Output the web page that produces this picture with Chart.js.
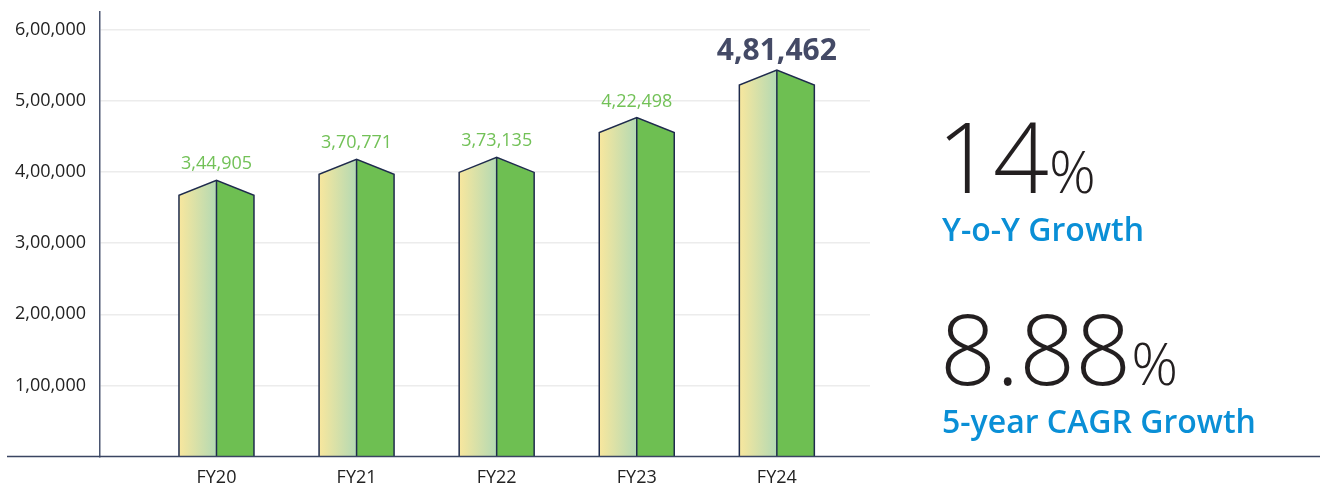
<!DOCTYPE html>
<html>
<head>
<meta charset="utf-8">
<script src="https://cdn.jsdelivr.net/npm/chart.js@4.4.1/dist/chart.umd.min.js"></script>
<style>
    body { margin: 0; background: #fff; font-family: "Open Sans", sans-serif; }
    #wrap { position: relative; width: 1322px; height: 488px; }
    .stat { position: absolute; left: 940px; white-space: nowrap; }
    .num { font-size: 98px; font-weight: 300; color: #231f20; line-height: 98px; }
    .pct { font-size: 58px; font-weight: 300; color: #231f20; }
    .cap { position: absolute; left: 942px; font-size: 32px; font-weight: 600; color: #0a8fd6; line-height: 32px; white-space: nowrap; }
</style>
</head>
<body>
<div id="wrap">
    <canvas id="myChart" width="1322" height="488"></canvas>
    <div class="stat" id="s1" style="top:106px;left:937px"><span class="num">14</span><span class="pct">%</span></div>
    <div class="cap" style="top:213px">Y-o-Y Growth</div>
    <div class="stat" id="s2" style="top:298px"><span class="num">8.88</span><span class="pct">%</span></div>
    <div class="cap" style="top:405px">5-year CAGR Growth</div>
</div>
<script>
var years = ['FY20', 'FY21', 'FY22', 'FY23', 'FY24'];
var revenue = [344905, 370771, 373135, 422498, 481462];
var yTicks = [100000, 200000, 300000, 400000, 500000, 600000];

// indian style grouping 4,81,462
function inr(n){
    var s = String(n);
    var last3 = s.slice(-3);
    var rest = s.slice(0, -3);
    if(rest) rest = rest.replace(/\B(?=(\d{2})+(?!\d))/g, ',') + ',';
    return rest + last3;
}

var prism = {
    id: 'prism',
    afterDatasetsDraw: function(chart){
        var ctx = chart.ctx;
        var meta = chart.getDatasetMeta(0);
        meta.data.forEach(function(bar, i){
            var x = bar.x, top = bar.y, half = bar.width / 2;
            var base = Math.min(bar.base, chart.chartArea.bottom);
            var peak = top - 15;

            var grad = ctx.createLinearGradient(x - half, 0, x, 0);
            grad.addColorStop(0, '#f8e79e');
            grad.addColorStop(1, '#b3d9b3');

            ctx.save();
            ctx.beginPath();
            ctx.moveTo(x - half, base);
            ctx.lineTo(x - half, top);
            ctx.lineTo(x, peak);
            ctx.lineTo(x, base);
            ctx.closePath();
            ctx.fillStyle = grad;
            ctx.fill();

            ctx.beginPath();
            ctx.moveTo(x, base);
            ctx.lineTo(x, peak);
            ctx.lineTo(x + half, top);
            ctx.lineTo(x + half, base);
            ctx.closePath();
            ctx.fillStyle = '#6ebf52';
            ctx.fill();

            ctx.beginPath();
            ctx.moveTo(x - half, base);
            ctx.lineTo(x - half, top);
            ctx.lineTo(x, peak);
            ctx.lineTo(x + half, top);
            ctx.lineTo(x + half, base);
            ctx.moveTo(x, peak);
            ctx.lineTo(x, base);
            ctx.strokeStyle = '#1f2b4d';
            ctx.lineWidth = 1.5;
            ctx.stroke();

            ctx.textAlign = 'center';
            ctx.textBaseline = 'alphabetic';
            if(i == revenue.length - 1){
                ctx.font = 'bold 30px "Open Sans"';
                ctx.fillStyle = '#444a66';
                ctx.fillText(inr(revenue[i]), x, peak - 10);
            } else {
                ctx.font = '18px "Open Sans"';
                ctx.fillStyle = '#72c157';
                ctx.fillText(inr(revenue[i]), x, peak - 11);
            }
            ctx.restore();
        });
    },
    afterDraw: function(chart){
        // long base line under everything
        var ctx = chart.ctx;
        var y = chart.chartArea.bottom;
        ctx.save();
        ctx.beginPath();
        ctx.moveTo(7, y);
        ctx.lineTo(1320, y);
        ctx.strokeStyle = '#3a4562';
        ctx.lineWidth = 1.5;
        ctx.stroke();
        ctx.restore();
    }
};

window.addEventListener('load', function(){
    var ctx = document.getElementById('myChart').getContext('2d');
    var chart = new Chart(ctx, {
        type: 'bar',
        data: {
            datasets: [{
                data: revenue.map(function(v, i){ return {x: i, y: v}; }),
                yAxisID: 'y2',
                barThickness: 75,
                backgroundColor: 'rgba(0,0,0,0)',
                borderWidth: 0
            }]
        },
        options: {
            responsive: false,
            animation: false,
            events: [],
            layout: { padding: { top: 12, right: 452, left: 0, bottom: 0 } },
            plugins: { legend: { display: false }, tooltip: { enabled: false } },
            scales: {
                x: {
                    type: 'linear',
                    offset: false,
                    min: -0.8315,
                    max: 4.665,
                    grid: { display: false, offset: false },
                    border: { display: false },
                    afterFit: function(scale){ scale.height = 31.5; },
                    ticks: {
                        stepSize: 1,
                        includeBounds: false,
                        autoSkip: false,
                        maxRotation: 0,
                        padding: 3,
                        color: '#222',
                        font: { family: 'Open Sans', size: 18 },
                        callback: function(v){ return years[v] || ''; }
                    }
                },
                y: {
                    min: 0,
                    max: 625000,
                    afterFit: function(scale){
                        scale.width = 100;
                        scale.paddingTop = 0;
                        scale.paddingBottom = 0;
                    },
                    afterBuildTicks: function(scale){
                        scale.ticks = yTicks.map(function(v){ return {value: v}; });
                    },
                    grid: { color: '#ececec', lineWidth: 1.5, drawTicks: false },
                    border: { display: true, color: '#4a5570', width: 1.5 },
                    ticks: {
                        padding: 14,
                        color: '#222',
                        font: { family: 'Open Sans', size: 18 },
                        callback: function(v){ return inr(v); }
                    }
                },
                y2: {
                    display: false,
                    min: 21000,
                    max: 572000
                }
            }
        },
        plugins: [prism]
    });
});
</script>
</body>
</html>
